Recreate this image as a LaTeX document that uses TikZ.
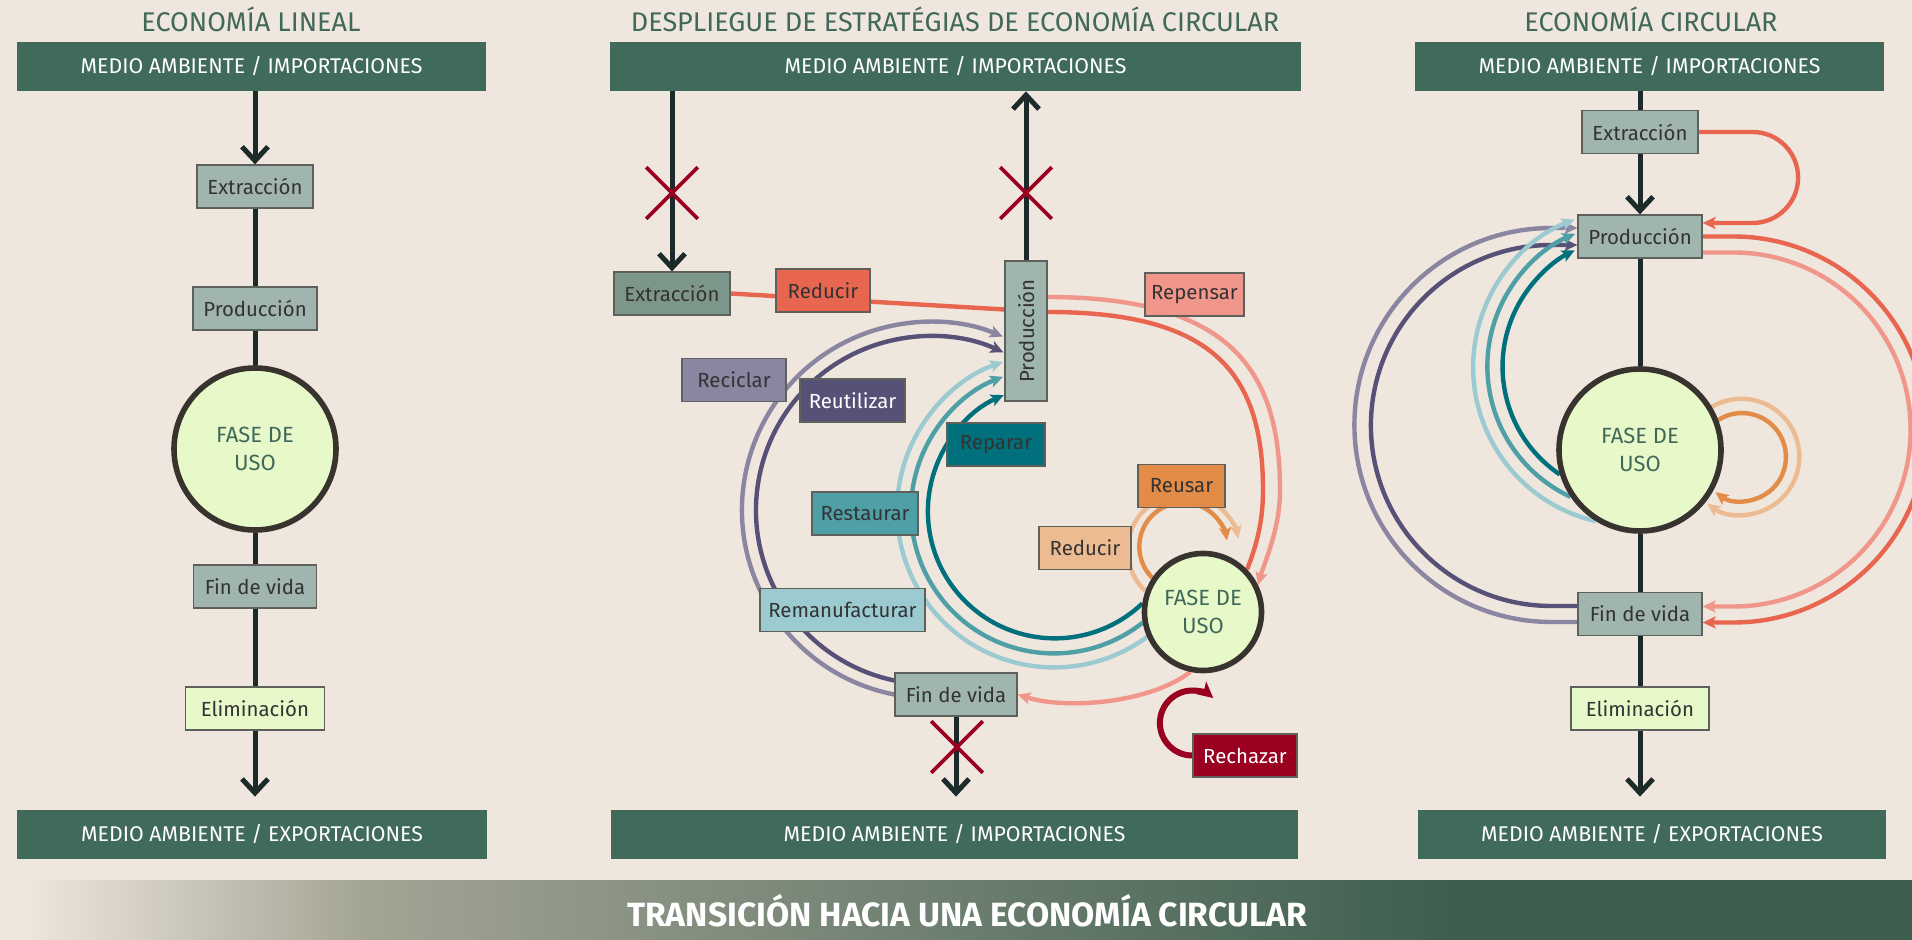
\documentclass[tikz,border=0pt]{standalone}
\usepackage{fontspec}
\setmainfont{Fira Sans}
\usepackage{graphicx}
\usetikzlibrary{arrows.meta,shapes.misc,calc}

\definecolor{bgbeige}{HTML}{EFE6DD}
\definecolor{envgreen}{HTML}{406A5A}
\definecolor{bandmid}{HTML}{A3A494}
\definecolor{bandgreen}{HTML}{3D5E4F}
\definecolor{titlegreen}{HTML}{41695A}
\definecolor{stagegrey}{HTML}{A0B5AE}
\definecolor{stagedark}{HTML}{7C968A}
\definecolor{boxline}{HTML}{5E605C}
\definecolor{usegreen}{HTML}{E7F8C9}
\definecolor{userim}{HTML}{38332E}
\definecolor{flowblack}{HTML}{1C2A2A}
\definecolor{crossred}{HTML}{9B0021}
\definecolor{textgrey}{HTML}{333333}
\definecolor{reducered}{HTML}{E8664F}
\definecolor{rethinkpink}{HTML}{F1968A}
\definecolor{recyclepurple}{HTML}{8A85A1}
\definecolor{reusepurple}{HTML}{575077}
\definecolor{repairteal}{HTML}{00717C}
\definecolor{restoreteal}{HTML}{4F9FA7}
\definecolor{remanteal}{HTML}{9CCAD1}
\definecolor{reuseorange}{HTML}{E38C48}
\definecolor{reduceorange}{HTML}{EDBB91}
\definecolor{refusered}{HTML}{9A0020}

\pgfdeclarelayer{back}
\pgfdeclarelayer{links}
\pgfsetlayers{back,links,main}

\tikzset{
  envbox/.style={fill=envgreen, text=white, inner sep=0pt, minimum height=24.5pt,
    font=\fontsize{10.65}{13}\selectfont},
  coltitle/.style={text=titlegreen, anchor=base, font=\fontsize{13.5}{16}\selectfont},
  stage/.style={draw=boxline, line width=0.6pt, fill=stagegrey, text=textgrey,
    inner sep=0pt, minimum height=21.5pt, font=\fontsize{10.2}{12}\selectfont},
  usephase/.style={circle, draw=userim, line width=2.8pt, fill=usegreen, text=titlegreen,
    align=center, inner sep=0pt, font=\fontsize{11}{14}\selectfont},
  flow/.style={draw=flowblack, line width=2.5pt},
  flowarrow/.style={flow, -{Straight Barb[length=7pt,width=13pt]}},
  crossmark/.style={cross out, draw=crossred, line width=1.8pt, minimum size=24pt, inner sep=0pt},
  strand/.style={line width=2.2pt},
  strandarrow/.style={strand, -{Stealth[length=6.5pt,width=6pt,inset=1.5pt]}},
}

\begin{document}
\begin{tikzpicture}[x=0.5pt, y=-0.5pt]
\useasboundingbox (0,0) rectangle (1912,940);

% Background and bottom band
\begin{pgfonlayer}{back}
\fill[bgbeige] (0,0) rectangle (1912,940);
\shade[left color=bgbeige, right color=bandmid] (24,880) rectangle (367,940);
\shade[left color=bandmid, right color=bandgreen] (366,880) rectangle (1461,940);
\fill[bandgreen] (1460,880) rectangle (1912,940);
\end{pgfonlayer}
\node[text=white, font=\fontsize{16.8}{20}\selectfont\bfseries] (band) at (967,911) {TRANSICIÓN HACIA UNA ECONOMÍA CIRCULAR};

% Column titles
\node[coltitle] (tlin) at (251,31.5) {ECONOMÍA LINEAL};
\node[coltitle] (tdes) at (955,31.5) {DESPLIEGUE DE ESTRATÉGIAS DE ECONOMÍA CIRCULAR};
\node[coltitle] (tcir) at (1651,31.5) {ECONOMÍA CIRCULAR};

% Environment boxes
\node[envbox, minimum width=234.5pt] (topl) at (251.5,66.5) {MEDIO AMBIENTE / IMPORTACIONES};
\node[envbox, minimum width=345.5pt] (topm) at (955.5,66.5) {MEDIO AMBIENTE / IMPORTACIONES};
\node[envbox, minimum width=234.5pt] (topr) at (1649.5,66.5) {MEDIO AMBIENTE / IMPORTACIONES};
\node[envbox, minimum width=235pt] (botl) at (252,834.5) {MEDIO AMBIENTE / EXPORTACIONES};
\node[envbox, minimum width=343.5pt] (botm) at (954.5,834.5) {MEDIO AMBIENTE / IMPORTACIONES};
\node[envbox, minimum width=234pt] (botr) at (1652,834.5) {MEDIO AMBIENTE / EXPORTACIONES};

% Linear economy
\node[stage, minimum width=58pt] (extl) at (255,186.5) {Extracción};
\node[stage, minimum width=62pt] (prodl) at (255,308.5) {Producción};
\node[usephase, minimum size=81pt] (usel) at (255,449) {FASE DE\\USO};
\node[stage, minimum width=61.5pt] (finl) at (255,586.5) {Fin de vida};
\node[stage, fill=usegreen, minimum width=69.5pt] (elil) at (255,708.5) {Eliminación};

% Strategies
\node[stage, fill=stagedark, minimum width=58pt] (extm) at (672,293.5) {Extracción};
\node[stage, fill=reducered, minimum width=47pt] (redm) at (823,290.5) {Reducir};
\node[stage, minimum width=21pt, minimum height=70pt] (prodm) at (1026,331) {\rotatebox{90}{Producción}};
\node[stage, fill=rethinkpink, minimum width=49.5pt] (repm) at (1194.5,294.5) {Repensar};
\node[stage, fill=recyclepurple, minimum width=52pt] (recm) at (734,380) {Reciclar};
\node[stage, fill=reusepurple, text=white, minimum width=52.5pt] (reum) at (852.5,400.5) {Reutilizar};
\node[stage, fill=repairteal, minimum width=49pt] (parm) at (996,444.5) {Reparar};
\node[stage, fill=restoreteal, minimum width=53pt] (resm) at (865,513.5) {Restaurar};
\node[stage, fill=remanteal, minimum width=82.5pt] (remm) at (842.5,610) {Remanufacturar};
\node[stage, fill=reuseorange, minimum width=43.5pt] (usam) at (1181.5,486) {Reusar};
\node[stage, fill=reduceorange, minimum width=46pt] (dulm) at (1085,548) {Reducir};
\node[usephase, minimum size=58.5pt] (usem) at (1203,612) {FASE DE\\USO};
\node[stage, minimum width=61pt] (finm) at (956,694.5) {Fin de vida};
\node[stage, fill=refusered, text=white, minimum width=52pt] (rchm) at (1245,755.5) {Rechazar};
\foreach \n/\x/\y in {crossa/672/193, crossb/1026/193, crossc/957/747}
  \node[crossmark] (\n) at (\x,\y) {};

% Circular economy
\node[stage, minimum width=58pt] (extr) at (1640,132) {Extracción};
\node[stage, minimum width=62pt] (prodr) at (1640,236.5) {Producción};
\node[usephase, minimum size=81pt] (user) at (1640,450) {FASE DE\\USO};
\node[stage, minimum width=62pt] (finr) at (1640,614) {Fin de vida};
\node[stage, fill=usegreen, minimum width=69pt] (elir) at (1640,708.5) {Eliminación};

\begin{pgfonlayer}{links}
% Material flow
\draw[flowarrow] (extl |- topl.south) -- (extl.north);
\draw[flow] (extl) -- (prodl);
\draw[flow] (prodl) -- (usel);
\draw[flow] (usel) -- (finl);
\draw[flow] (finl) -- (elil);
\draw[flowarrow] (elil.south) -- ++(0,66);

\draw[flowarrow] (extm |- topm.south) -- (extm.north);
\draw[flowarrow] (prodm.north) -- (prodm |- topm.south);
\draw[flowarrow] (finm.south) -- ++(0,80);

\draw[flow] (extr |- topr.south) -- (extr.north);
\draw[flowarrow] (extr) -- (prodr);
\draw[flow] (prodr) -- (user);
\draw[flow] (user) -- (finr);
\draw[flow] (finr) -- (elir);
\draw[flowarrow] (elir.south) -- ++(0,66);

% Strategy loops, middle
\draw[strand, reducered] (extm.east) -- ($(prodm.east)+(0,-19)$)
  .. controls (1210,312) and (1263,370) .. (1263,490)
  .. controls (1263,525) and (1255,549) .. (usem.44);
\draw[strandarrow, rethinkpink] ($(prodm.east)+(0,-34)$)
  .. controls (1230,297) and (1280,370) .. (1280,490)
  .. controls (1280,530) and (1264,563) .. (usem.26);
\draw[strandarrow, recyclepurple] (finm.west) arc[start angle=100.9, end angle=292.8, radius=188];
\draw[strandarrow, reusepurple] (finm.west) ++(0,-14) arc[start angle=101.8, end angle=295, radius=174];
\draw[strandarrow, repairteal] (usem.172) arc[start angle=46.5, end angle=246.3, radius=127];
\draw[strandarrow, restoreteal] (usem.190) arc[start angle=51.7, end angle=249.1, radius=143];
\draw[strandarrow, remanteal] (usem.204) arc[start angle=53.7, end angle=251, radius=157];
\draw[strandarrow, reduceorange] (usem.160) arc[start angle=133, end angle=348, radius=56];
\draw[strandarrow, reuseorange] (usem.146) arc[start angle=135, end angle=352, radius=44];
\draw[strandarrow, rethinkpink] (usem.258) .. controls (1150,703) and (1067,710) .. (finm.east);
\draw[line width=3pt, refusered, -{Stealth[length=8pt,width=8pt,inset=2pt]}]
  (rchm.west) arc[start angle=90, end angle=310, radius=32.5];

% Strategy loops, right
\draw[strandarrow, reducered] (extr.east) -- ++(54,0) arc[start angle=270, end angle=450, radius=45.5]
  -- ($(prodr.east)+(0,-13.5)$);
\draw[strandarrow, reducered] (prodr.east) -- ++(31,0) arc[start angle=270, end angle=450, radius=193]
  -- ($(finr.east)+(0,8.5)$);
\draw[strandarrow, rethinkpink] ($(prodr.east)+(0,16)$) -- ++(31,0) arc[start angle=270, end angle=450, radius=177]
  -- ($(finr.east)+(0,-7.5)$);
\draw[strandarrow, recyclepurple] ($(finr.west)+(0,8)$) -- ++(-26,0) arc[start angle=90, end angle=270, radius=197]
  -- ($(prodr.west)+(0,-8.5)$);
\draw[strandarrow, reusepurple] ($(finr.west)+(0,-8)$) -- ++(-26,0) arc[start angle=90, end angle=270, radius=180.5]
  -- ($(prodr.west)+(0,8.5)$);
\draw[strandarrow, remanteal] (user.238) arc[start angle=103, end angle=249, radius=158];
\draw[strandarrow, restoreteal] (user.214) arc[start angle=115, end angle=247, radius=144];
\draw[strandarrow, repairteal] (user.197) arc[start angle=124, end angle=243.6, radius=130];
\draw[strandarrow, reduceorange] (user.31) arc[start angle=239.4, end angle=486, radius=58];
\draw[strandarrow, reuseorange] (user.21) arc[start angle=237.4, end angle=487, radius=44];
\end{pgfonlayer}
\end{tikzpicture}
\end{document}
